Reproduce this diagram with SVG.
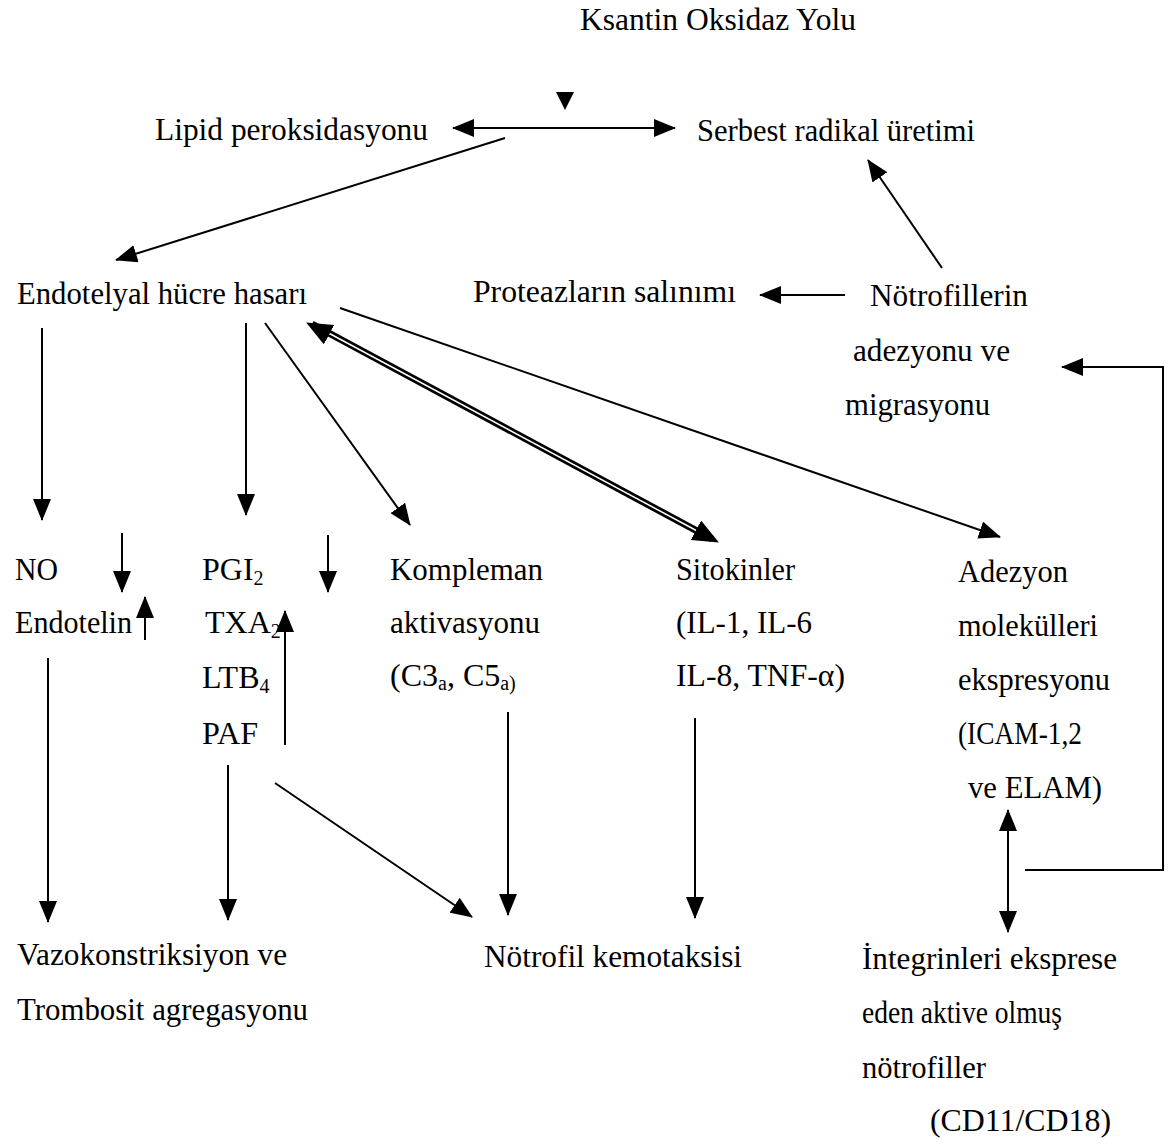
<svg xmlns="http://www.w3.org/2000/svg" width="1172" height="1144" viewBox="0 0 1172 1144">
<defs>
<style>
text{font-family:"Liberation Serif","Times New Roman",serif;font-size:32px;fill:#000}
.sub{font-size:20px}
.ln{stroke:#000;stroke-width:2;fill:none}
</style>
<marker id="ah" viewBox="0 0 22 18" refX="21" refY="9" markerWidth="22" markerHeight="18" markerUnits="userSpaceOnUse" orient="auto-start-reverse"><path d="M0,0 L22,9 L0,18 z" fill="#000"/></marker>
<marker id="ahb" viewBox="0 0 26 22" refX="25" refY="11" markerWidth="26" markerHeight="22" markerUnits="userSpaceOnUse" orient="auto-start-reverse"><path d="M0,0 L26,11 L0,22 z" fill="#000"/></marker>
</defs>
<rect width="1172" height="1144" fill="#fff"/>

<g id="connectors">
<polygon points="556,92 574,92 565,110" fill="#000"/>
<line class="ln" x1="453" y1="128" x2="675" y2="128" marker-start="url(#ah)" marker-end="url(#ah)"/>
<line class="ln" x1="505" y1="138" x2="116" y2="260" stroke-width="2.5" marker-end="url(#ah)"/>
<line class="ln" x1="942" y1="268" x2="868" y2="160" marker-end="url(#ah)"/>
<line class="ln" x1="845" y1="295" x2="760" y2="295" marker-end="url(#ah)"/>
<polyline class="ln" points="1025,870 1163,870 1163,367 1062,367" marker-end="url(#ah)"/>
<line class="ln" x1="42" y1="328" x2="42" y2="520" marker-end="url(#ah)"/>
<line class="ln" x1="246" y1="323" x2="246" y2="515" marker-end="url(#ah)"/>
<line class="ln" x1="265" y1="323" x2="410" y2="525" marker-end="url(#ah)"/>
<line x1="312" y1="324" x2="712" y2="539" stroke="#000" stroke-width="7"/>
<line x1="322" y1="329.5" x2="700" y2="532.5" stroke="#fff" stroke-width="1.5"/>
<line x1="307" y1="323" x2="718" y2="542" stroke="none" marker-start="url(#ahb)" marker-end="url(#ahb)"/>
<line class="ln" x1="340" y1="308" x2="1000" y2="537" marker-end="url(#ah)"/>
<line class="ln" x1="122" y1="533" x2="122" y2="592" marker-end="url(#ah)"/>
<line class="ln" x1="145" y1="640" x2="145" y2="597" marker-end="url(#ah)"/>
<line class="ln" x1="328" y1="535" x2="328" y2="592" marker-end="url(#ah)"/>
<line class="ln" x1="285" y1="745" x2="285" y2="611" marker-end="url(#ah)"/>
<line class="ln" x1="48" y1="658" x2="48" y2="922" marker-end="url(#ah)"/>
<line class="ln" x1="228" y1="765" x2="228" y2="920" marker-end="url(#ah)"/>
<line class="ln" x1="275" y1="783" x2="472" y2="917" marker-end="url(#ah)"/>
<line class="ln" x1="508" y1="712" x2="508" y2="915" marker-end="url(#ah)"/>
<line class="ln" x1="695" y1="718" x2="695" y2="918" marker-end="url(#ah)"/>
<line class="ln" x1="1008" y1="810" x2="1008" y2="932" marker-start="url(#ah)" marker-end="url(#ah)"/>
</g>

<g id="n-ksantin"><text x="580" y="30" textLength="276" lengthAdjust="spacingAndGlyphs">Ksantin Oksidaz Yolu</text></g>
<g id="n-lipid"><text x="155" y="140" textLength="273" lengthAdjust="spacingAndGlyphs">Lipid peroksidasyonu</text></g>
<g id="n-serbest"><text x="697" y="141" textLength="278" lengthAdjust="spacingAndGlyphs">Serbest radikal üretimi</text></g>
<g id="n-endotelyal"><text x="17" y="304" textLength="290" lengthAdjust="spacingAndGlyphs">Endotelyal hücre hasarı</text></g>
<g id="n-proteaz"><text x="473" y="302" textLength="263" lengthAdjust="spacingAndGlyphs">Proteazların salınımı</text></g>
<g id="n-notrofil-adezyon">
<text x="870" y="306" textLength="158" lengthAdjust="spacingAndGlyphs">Nötrofillerin</text>
<text x="853" y="361" textLength="157" lengthAdjust="spacingAndGlyphs">adezyonu ve</text>
<text x="845" y="415" textLength="145" lengthAdjust="spacingAndGlyphs">migrasyonu</text>
</g>
<g id="n-no">
<text x="15" y="580" textLength="43" lengthAdjust="spacingAndGlyphs">NO</text>
<text x="15" y="633" textLength="117" lengthAdjust="spacingAndGlyphs">Endotelin</text>
</g>
<g id="n-pgi">
<text x="202" y="580">PGI<tspan class="sub" dy="5">2</tspan></text>
<text x="205" y="633" font-size="30">TXA<tspan class="sub" dy="5">2</tspan></text>
<text x="202" y="688">LTB<tspan class="sub" dy="5">4</tspan></text>
<text x="202" y="744" textLength="56" lengthAdjust="spacingAndGlyphs">PAF</text>
</g>
<g id="n-kompleman">
<text x="390" y="580" textLength="153" lengthAdjust="spacingAndGlyphs">Kompleman</text>
<text x="390" y="633" textLength="150" lengthAdjust="spacingAndGlyphs">aktivasyonu</text>
<text x="390" y="686" font-size="29">(C3<tspan class="sub" font-size="18" dy="4">a</tspan><tspan dy="-4">, C5</tspan><tspan class="sub" font-size="18" dy="4">a)</tspan></text>
</g>
<g id="n-sitokin">
<text x="676" y="580" textLength="119" lengthAdjust="spacingAndGlyphs">Sitokinler</text>
<text x="676" y="633" textLength="136" lengthAdjust="spacingAndGlyphs">(IL-1, IL-6</text>
<text x="676" y="686" textLength="169" lengthAdjust="spacingAndGlyphs">IL-8, TNF-α)</text>
</g>
<g id="n-adezyon">
<text x="958" y="582" textLength="110" lengthAdjust="spacingAndGlyphs">Adezyon</text>
<text x="958" y="636" textLength="140" lengthAdjust="spacingAndGlyphs">molekülleri</text>
<text x="958" y="690" textLength="152" lengthAdjust="spacingAndGlyphs">ekspresyonu</text>
<text x="958" y="744" textLength="124" lengthAdjust="spacingAndGlyphs">(ICAM-1,2</text>
<text x="968" y="798" textLength="134" lengthAdjust="spacingAndGlyphs">ve ELAM)</text>
</g>
<g id="n-vazo">
<text x="17" y="965" textLength="270" lengthAdjust="spacingAndGlyphs">Vazokonstriksiyon ve</text>
<text x="17" y="1020" textLength="291" lengthAdjust="spacingAndGlyphs">Trombosit agregasyonu</text>
</g>
<g id="n-kemotaksi"><text x="484" y="967" textLength="258" lengthAdjust="spacingAndGlyphs">Nötrofil kemotaksisi</text></g>
<g id="n-integrin">
<text x="862" y="969" textLength="255" lengthAdjust="spacingAndGlyphs">İntegrinleri eksprese</text>
<text x="862" y="1023" textLength="200" lengthAdjust="spacingAndGlyphs">eden aktive olmuş</text>
<text x="862" y="1078" textLength="124" lengthAdjust="spacingAndGlyphs">nötrofiller</text>
<text x="930" y="1131" textLength="181" lengthAdjust="spacingAndGlyphs">(CD11/CD18)</text>
</g>
</svg>
